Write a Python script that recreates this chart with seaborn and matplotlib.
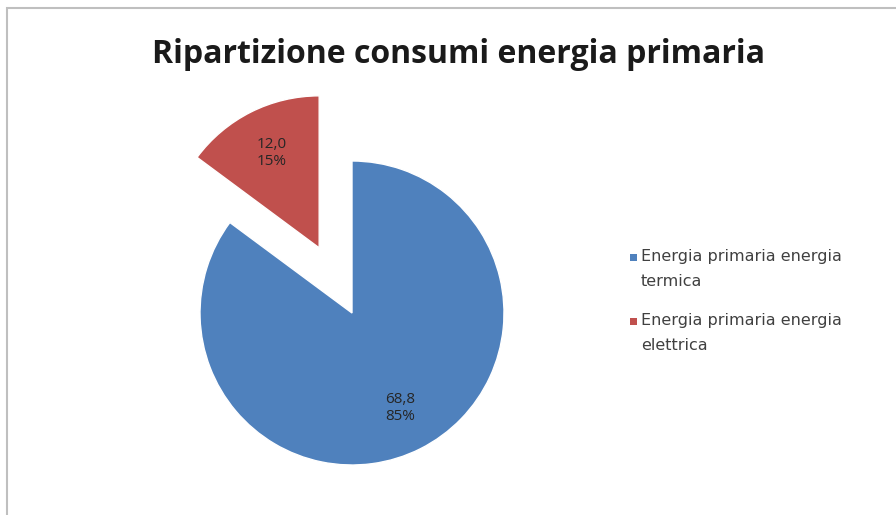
import matplotlib.pyplot as plt
import seaborn as sns
from matplotlib.patches import Rectangle

# Data
categorie = ["Energia primaria energia\ntermica", "Energia primaria energia\nelettrica"]
valori = [68.8, 12.0]
colori = ["#4F81BD", "#C0504D"]
titolo = "Ripartizione consumi energia primaria"

sns.set_theme(style="white")
plt.rcParams['font.family'] = ['Open Sans', 'DejaVu Sans']

W, H = 896, 515
fig = plt.figure(figsize=(W / 100, H / 100), dpi=100)
ax = fig.add_axes([0, 0, 1, 1])

totale = sum(valori)

def etichetta(p):
    v = p * totale / 100
    return f"{v:.1f}".replace(".", ",") + f"\n{p:.0f}%"

wedges, texts, autotexts = ax.pie(valori, colors=colori, startangle=90, counterclock=False,
                                  explode=[0, 0.48], autopct=etichetta, pctdistance=0.7,
                                  textprops=dict(fontsize=11, color="#262626"))

# 1 unit = 152 px, pie centre at (352, 313) px from top-left
cx, cy, r = 352, 313, 152
ax.set_xlim(-cx / r, (W - cx) / r)
ax.set_ylim((cy - H) / r, cy / r)
ax.set_aspect('equal', adjustable='datalim')
ax.axis('off')

# Title
fig.text(0.512, 0.895, titolo, ha="center", va="center", fontsize=23, fontweight="bold", color="#1a1a1a")

# Legend (drawn by hand to keep the marker on the first line)
for i, (cat, col) in enumerate(zip(categorie, colori)):
    y = 257 + i * 64
    fig.patches.append(Rectangle((630 / W, 1 - (y + 4) / H), 7 / W, 7 / H, transform=fig.transFigure,
                                 facecolor=col, edgecolor="none"))
    fig.text(641 / W, 1 - (y - 8) / H, cat, ha="left", va="top", fontsize=11.5, color="#404040",
             family="DejaVu Sans", linespacing=1.8)

# Chart border
fig.patches.append(Rectangle((7 / W, -0.1), 1.2, 1 - 8 / H + 0.1, transform=fig.transFigure,
                             fill=False, edgecolor="#BFBFBF", linewidth=1.5))

fig.savefig("out.png", dpi=100)
